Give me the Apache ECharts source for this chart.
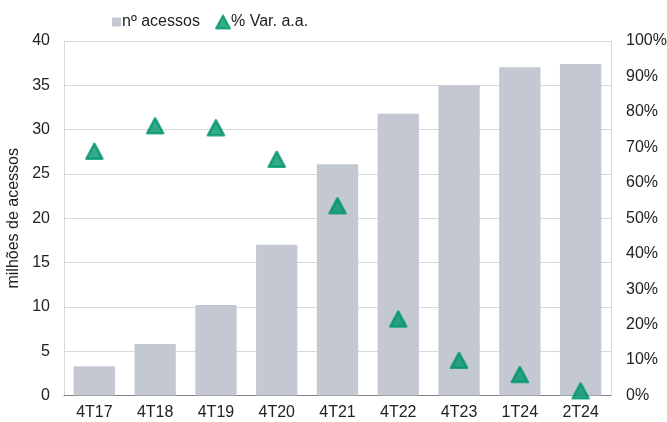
<!DOCTYPE html>
<html>
<head>
<meta charset="utf-8">
<script src="https://cdn.jsdelivr.net/npm/echarts@6/dist/echarts.min.js"></script>
<style>html,body{margin:0;padding:0;background:#fff;}#c{width:667px;height:422px;}</style>
</head>
<body>
<div id="c"></div>
<script>
const categories = ['4T17','4T18','4T19','4T20','4T21','4T22','4T23','1T24','2T24'];
const acessos = [3.3, 5.8, 10.2, 17.0, 26.1, 31.8, 35.0, 37.05, 37.4];
const varAA = [68.9, 76.1, 75.5, 66.6, 53.5, 21.6, 9.9, 5.9, 1.3];
const seriesNames = ['nº acessos', '% Var. a.a.'];

const font = 'Liberation Sans, Arial, sans-serif';
const legendText = {fontFamily: font, fontSize: 16, color: '#222', padding: [0, 0, 0, -4]};
const chart = echarts.init(document.getElementById('c'), null, {renderer: 'canvas'});
chart.setOption({
  animation: false,
  backgroundColor: '#ffffff',
  textStyle: {fontFamily: font},
  legend: [
    {
      top: 9, left: 107, itemWidth: 9, itemHeight: 9,
      textStyle: legendText,
      data: [{name: seriesNames[0], icon: 'rect', itemStyle: {color: '#c4c8d3'}}]
    },
    {
      top: 9, left: 210, itemWidth: 14, itemHeight: 13,
      textStyle: legendText,
      data: [{name: seriesNames[1], icon: 'triangle', itemStyle: {color: '#00956b'}}]
    }
  ],
  grid: {left: 64, right: 56, top: 41, bottom: 26.5, containLabel: false, outerBoundsMode: 'none'},
  xAxis: {
    type: 'category', data: categories,
    axisLine: {lineStyle: {color: '#7f7f7f', width: 1}},
    axisTick: {show: false},
    axisLabel: {fontFamily: font, fontSize: 16, color: '#222', margin: 9}
  },
  yAxis: [
    {
      type: 'value', min: 0, max: 40, interval: 5,
      name: 'milhões de acessos', nameLocation: 'middle', nameGap: 35.5,
      nameTextStyle: {fontFamily: font, fontSize: 16, color: '#222'},
      axisLine: {show: true, lineStyle: {color: '#d9d9d9'}},
      axisTick: {show: false},
      splitLine: {lineStyle: {color: '#d9d9d9', width: 1}},
      axisLabel: {fontFamily: font, fontSize: 16, color: '#222', margin: 14}
    },
    {
      type: 'value', min: 0, max: 100, interval: 10, position: 'right',
      axisLine: {show: true, lineStyle: {color: '#d9d9d9'}},
      axisTick: {show: false},
      splitLine: {show: false},
      axisLabel: {fontFamily: font, fontSize: 16, color: '#222', margin: 15, formatter: '{value}%'}
    }
  ],
  series: [
    {
      name: seriesNames[0], type: 'bar', data: acessos, yAxisIndex: 0,
      barWidth: '68%',
      itemStyle: {color: '#c4c8d3'}
    },
    {
      name: seriesNames[1], type: 'scatter', data: varAA, yAxisIndex: 1,
      symbol: 'triangle', symbolSize: [16, 15],
      itemStyle: {color: '#00956b', borderColor: '#00956b', borderWidth: 2.5, borderJoin: 'round'}
    }
  ]
});
</script>
</body>
</html>
